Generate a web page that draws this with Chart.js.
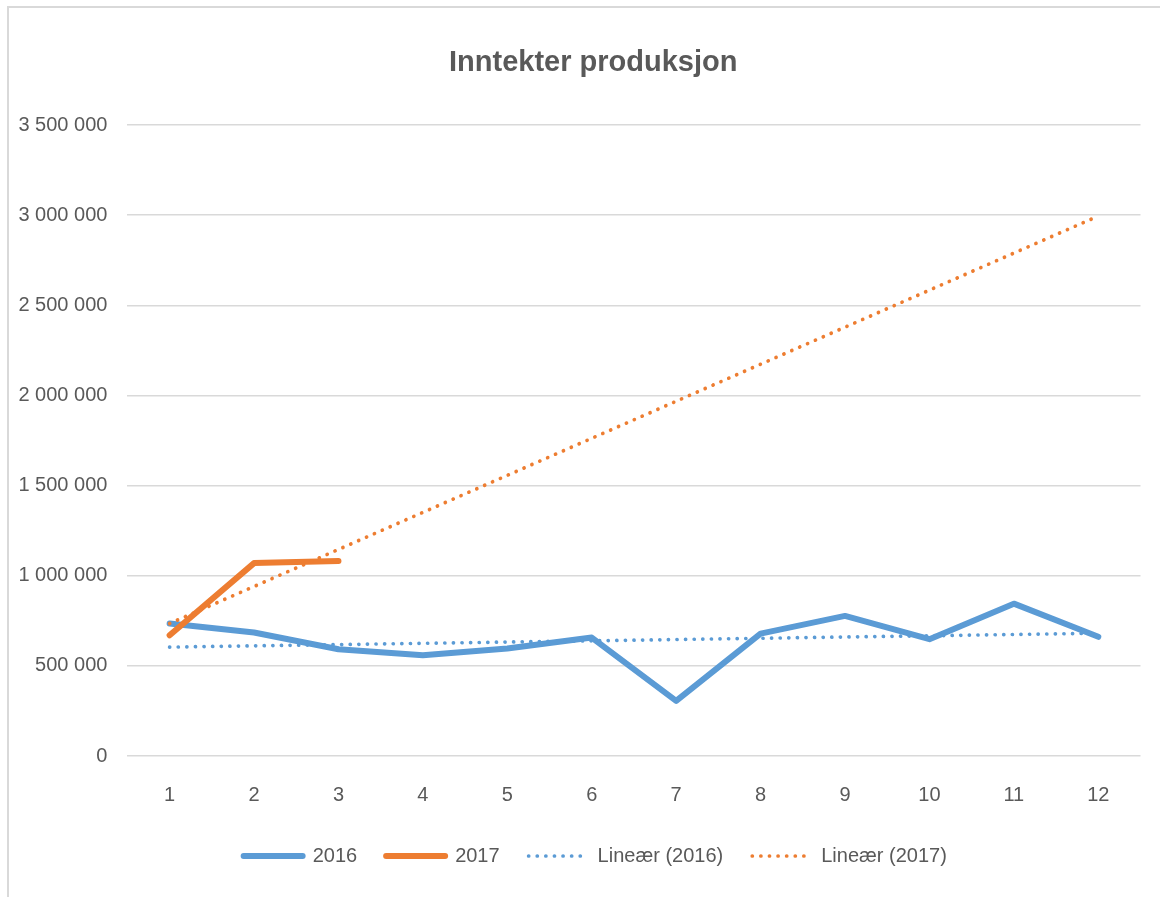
<!DOCTYPE html>
<html>
<head>
<meta charset="utf-8">
<script src="https://cdn.jsdelivr.net/npm/chart.js@4"></script>
<style>
  html, body { margin: 0; padding: 0; background: #ffffff; width: 1160px; height: 897px; overflow: hidden; }
  #frame { position: absolute; left: 7px; top: 6px; width: 2000px; height: 2000px;
           border-left: 2px solid #d9d9d9; border-top: 2px solid #d9d9d9; }
  #c { position: absolute; left: 0; top: 0; }
</style>
</head>
<body>
<div id="frame"></div>
<canvas id="c" width="1160" height="897"></canvas>
<script>
// ---- data ----
const months = ['1', '2', '3', '4', '5', '6', '7', '8', '9', '10', '11', '12'];
const values2016 = [735000, 685000, 592000, 559000, 596000, 657000, 306000, 679000, 777000, 648000, 845000, 661000];
const values2017 = [670000, 1070000, 1081000];
// linear trend lines: start (month 1) and end (month 12)
const trend2016 = [604000, null, null, null, null, null, null, null, null, null, null, 681000];
const trend2017 = [735000, null, null, null, null, null, null, null, null, null, null, 2995000];
const seriesNames = ['2016', '2017', 'Lineær (2016)', 'Lineær (2017)'];
const chartTitle = 'Inntekter produksjon';
const yMin = 0, yMax = 3500000, yStep = 500000;

const BLUE = '#5B9BD5';
const ORANGE = '#ED7D31';
const TEXT = '#595959';
const FONT = "'Liberation Sans', Arial, sans-serif";

function fmt(v) {
  return String(v).replace(/\B(?=(\d{3})+(?!\d))/g, ' ');
}

const boxShift = {
  id: 'boxShift',
  afterLayout(chart) {
    const l = chart.legend;
    if (l) { l.left += 17; l.right += 17; }
    const t = chart.titleBlock;
    if (t) { t.left += 15; t.right += 15; }
  }
};

new Chart(document.getElementById('c'), {
  type: 'line',
  data: {
    labels: months,
    datasets: [
      { label: seriesNames[0], data: values2016, borderColor: BLUE, backgroundColor: BLUE,
        borderWidth: 6, pointRadius: 0, tension: 0, borderCapStyle: 'round', borderJoinStyle: 'round', order: 4 },
      { label: seriesNames[1], data: values2017, borderColor: ORANGE, backgroundColor: ORANGE,
        borderWidth: 6, pointRadius: 0, tension: 0, borderCapStyle: 'round', borderJoinStyle: 'round', order: 3 },
      { label: seriesNames[2], data: trend2016, borderColor: BLUE, backgroundColor: BLUE,
        borderWidth: 3.7, borderDash: [0.1, 8.5], borderCapStyle: 'round', pointRadius: 0, spanGaps: true, order: 2 },
      { label: seriesNames[3], data: trend2017, borderColor: ORANGE, backgroundColor: ORANGE,
        borderWidth: 3.7, borderDash: [0.1, 8.5], borderCapStyle: 'round', pointRadius: 0, spanGaps: true, order: 1 }
    ]
  },
  plugins: [boxShift],
  options: {
    responsive: false,
    animation: false,
    layout: { padding: { left: 16, right: 19.5, top: 0, bottom: 21 } },
    plugins: {
      title: {
        display: true, text: chartTitle, color: TEXT,
        font: { family: FONT, size: 29, weight: 'bold', lineHeight: 1.2 },
        padding: { top: 45.6, bottom: 44.6 }
      },
      legend: {
        position: 'bottom',
        labels: {
          usePointStyle: true, pointStyle: 'line', pointStyleWidth: 59,
          padding: 29, color: TEXT,
          font: { family: FONT, size: 20 },
          sort: (a, b) => a.datasetIndex - b.datasetIndex,
          generateLabels(chart) {
            const items = Chart.defaults.plugins.legend.labels.generateLabels(chart);
            items.forEach((it) => {
              const ds = chart.data.datasets[it.datasetIndex];
              it.lineDash = ds.borderDash || [];
              it.lineWidth = ds.borderWidth;
              it.lineCap = ds.borderCapStyle || 'butt';
              it.strokeStyle = ds.borderColor;
              it.fillStyle = ds.borderColor;
              it.pointStyle = 'line';
            });
            return items;
          }
        }
      },
      tooltip: { enabled: false }
    },
    scales: {
      x: {
        offset: true,
        grid: { display: false, drawTicks: false },
        border: { display: false },
        ticks: { color: TEXT, font: { family: FONT, size: 20 }, padding: 27.5, maxRotation: 0 },
        afterFit: (s) => { s.height = 61; }
      },
      y: {
        min: yMin, max: yMax,
        grid: { color: '#d9d9d9', lineWidth: 1.5, drawTicks: false },
        border: { display: false },
        ticks: { stepSize: yStep, padding: 20, color: TEXT, font: { family: FONT, size: 20 }, callback: (v) => fmt(v) },
        afterFit: (s) => { s.width = 111.4; }
      }
    }
  }
});
</script>
</body>
</html>
